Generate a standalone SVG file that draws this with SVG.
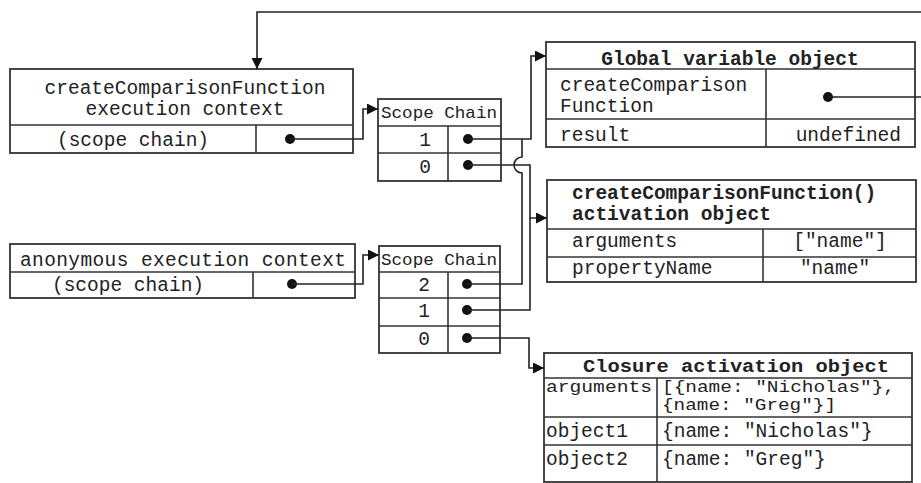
<svg xmlns="http://www.w3.org/2000/svg" width="921" height="483" viewBox="0 0 921 483">
<defs>
<style>
text{font-family:"Liberation Mono","Courier New",monospace;font-size:19.5px;fill:#222;}
.b{font-weight:bold;}
.c{text-anchor:middle;}
.e{text-anchor:end;}
.sc{font-size:17px;}
.sm{font-size:16px;}
.box{fill:#fff;stroke:#333;stroke-width:1.8;}
.ln{fill:none;stroke:#333;stroke-width:1.6;}
.con{fill:none;stroke:#222;stroke-width:1.6;}
.dot{fill:#111;}
</style>
<marker id="ah" viewBox="0 0 10 10" refX="10" refY="5" markerWidth="11" markerHeight="11" markerUnits="userSpaceOnUse" orient="auto">
<path d="M0,0 L10,5 L0,10 z" fill="#111"/>
</marker>
</defs>
<rect width="921" height="483" fill="#fff"/>

<g id="ctx1">
<rect class="box" x="10" y="69" width="343" height="84"/>
<line class="ln" x1="10" y1="125" x2="353" y2="125"/>
<line class="ln" x1="256" y1="125" x2="256" y2="153"/>
<text class="c" x="185" y="94">createComparisonFunction</text>
<text class="c" x="185" y="115">execution context</text>
<text class="c" x="133" y="146">(scope chain)</text>
<circle class="dot" cx="290" cy="139" r="5"/>
</g>

<g id="ctx2">
<rect class="box" x="10" y="244" width="345" height="54"/>
<line class="ln" x1="10" y1="272" x2="355" y2="272"/>
<line class="ln" x1="253" y1="272" x2="253" y2="298"/>
<text x="20" y="266" textLength="326" lengthAdjust="spacing">anonymous execution context</text>
<text class="c" x="128" y="291">(scope chain)</text>
<circle class="dot" cx="292" cy="284" r="5"/>
</g>

<g id="sc1">
<rect class="box" x="378" y="99" width="123" height="82"/>
<line class="ln" x1="378" y1="126" x2="501" y2="126"/>
<line class="ln" x1="378" y1="153" x2="501" y2="153"/>
<line class="ln" x1="448" y1="126" x2="448" y2="181"/>
<text class="sc" x="381" y="118" textLength="116" lengthAdjust="spacingAndGlyphs">Scope Chain</text>
<text class="c" x="425" y="146">1</text>
<text class="c" x="425" y="173">0</text>
<circle class="dot" cx="468" cy="139" r="5"/>
<circle class="dot" cx="468" cy="165" r="5"/>
</g>

<g id="sc2">
<rect class="box" x="379" y="246" width="121" height="107"/>
<line class="ln" x1="379" y1="272" x2="500" y2="272"/>
<line class="ln" x1="379" y1="298" x2="500" y2="298"/>
<line class="ln" x1="379" y1="326" x2="500" y2="326"/>
<line class="ln" x1="448" y1="272" x2="448" y2="353"/>
<text class="sc" x="381" y="265" textLength="116" lengthAdjust="spacingAndGlyphs">Scope Chain</text>
<text class="c" x="424" y="291">2</text>
<text class="c" x="424" y="317">1</text>
<text class="c" x="424" y="345">0</text>
<circle class="dot" cx="467" cy="284" r="5"/>
<circle class="dot" cx="467" cy="310" r="5"/>
<circle class="dot" cx="467" cy="338" r="5"/>
</g>

<g id="global">
<rect class="box" x="546" y="42" width="369" height="105"/>
<line class="ln" x1="546" y1="69" x2="915" y2="69"/>
<line class="ln" x1="546" y1="119" x2="915" y2="119"/>
<line class="ln" x1="766" y1="69" x2="766" y2="147"/>
<text class="b c" x="730" y="65">Global variable object</text>
<text x="560" y="91">createComparison</text>
<text x="560" y="112">Function</text>
<text x="560" y="141">result</text>
<text class="e" x="901" y="141">undefined</text>
<circle class="dot" cx="828" cy="97" r="5"/>
</g>

<g id="activation">
<rect class="box" x="547" y="180" width="369" height="102"/>
<line class="ln" x1="547" y1="229" x2="916" y2="229"/>
<line class="ln" x1="547" y1="257" x2="916" y2="257"/>
<line class="ln" x1="763" y1="229" x2="763" y2="282"/>
<text class="b" x="572" y="199">createComparisonFunction()</text>
<text class="b" x="572" y="220">activation object</text>
<text x="572" y="247">arguments</text>
<text x="572" y="274">propertyName</text>
<text class="c" x="840" y="247">["name"]</text>
<text class="c" x="835" y="274">"name"</text>
</g>

<g id="closure">
<rect class="box" x="544" y="353" width="368" height="129"/>
<line class="ln" x1="544" y1="378" x2="912" y2="378"/>
<line class="ln" x1="544" y1="417" x2="912" y2="417"/>
<line class="ln" x1="544" y1="445" x2="912" y2="445"/>
<line class="ln" x1="657" y1="378" x2="657" y2="482"/>
<text class="b" x="583" y="372" style="font-size:18px" textLength="306" lengthAdjust="spacingAndGlyphs">Closure activation object</text>
<text class="sm" x="546" y="392" textLength="106" lengthAdjust="spacingAndGlyphs">arguments</text>
<text class="sm" x="662" y="392" textLength="233" lengthAdjust="spacingAndGlyphs">[{name: "Nicholas"},</text>
<text class="sm" x="662" y="410" textLength="174" lengthAdjust="spacingAndGlyphs">{name: "Greg"}]</text>
<text x="546" y="437">object1</text>
<text x="662" y="437">{name: "Nicholas"}</text>
<text x="546" y="465">object2</text>
<text x="662" y="465">{name: "Greg"}</text>
</g>

<g id="connectors">
<path class="con" d="M828,97 H930 V12 H257 V69" marker-end="url(#ah)"/>
<path class="con" d="M290,139 H363 V109 H378" marker-end="url(#ah)"/>
<path class="con" d="M468,139 H531 V56 H546" marker-end="url(#ah)"/>
<path class="con" d="M468,165 H530 V218 H547" marker-end="url(#ah)"/>
<path class="con" d="M292,284 H363 V255 H379" marker-end="url(#ah)"/>
<path class="con" d="M467,284 H522 V173 A8,8 0 0 1 522,157 V139"/>
<path class="con" d="M467,310 H530 V218"/>
<path class="con" d="M467,338 H529 V368 H544" marker-end="url(#ah)"/>
</g>
</svg>
